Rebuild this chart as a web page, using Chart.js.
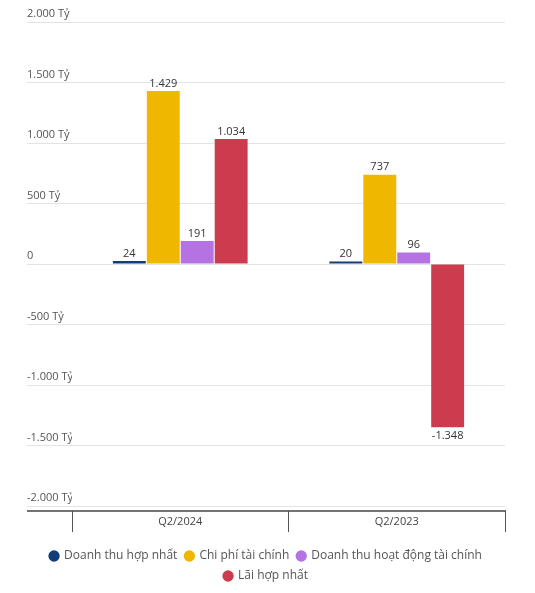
<!DOCTYPE html>
<html>
<head>
<meta charset="utf-8">
<script src="https://cdn.jsdelivr.net/npm/chart.js@4"></script>
<style>
  html, body { margin: 0; padding: 0; background: #fff; }
  #wrap { width: 535px; height: 593px; }
</style>
</head>
<body>
<div id="wrap"><canvas id="chart"></canvas></div>
<script>
// Data (units: tỷ đồng)
const categories = ['Q2/2024', 'Q2/2023'];
const seriesNames = ['Doanh thu hợp nhất', 'Chi phí tài chính', 'Doanh thu hoạt động tài chính', 'Lãi hợp nhất'];
const doanhThu = [24, 20];
const chiPhiTaiChinh = [1429, 737];
const doanhThuTaiChinh = [191, 96];
const laiHopNhat = [1034, -1348];
const yTicks = [-2000, -1500, -1000, -500, 0, 500, 1000, 1500, 2000];

const colors = ['#123d78', '#efb700', '#b572e2', '#cd3c4e'];
const font = "'Open Sans', 'Noto Sans', sans-serif";

// 1429 -> "1.429"
function fmt(v) {
  const s = String(Math.abs(v)).replace(/\B(?=(\d{3})+(?!\d))/g, '.');
  return (v < 0 ? '-' : '') + s;
}

// value labels at the end of each bar
const valueLabels = {
  id: 'valueLabels',
  afterDatasetsDraw(chart) {
    const ctx = chart.ctx;
    ctx.save();
    ctx.font = '11px ' + font;
    ctx.fillStyle = '#333';
    ctx.textAlign = 'center';
    chart.data.datasets.forEach((ds, i) => {
      chart.getDatasetMeta(i).data.forEach((el, j) => {
        const v = ds.data[j];
        if (v >= 0) {
          ctx.textBaseline = 'bottom';
          ctx.fillText(fmt(v), el.x, el.y - 2);
        } else {
          ctx.textBaseline = 'top';
          ctx.fillText(fmt(v), el.x, el.y + 3);
        }
      });
    });
    ctx.restore();
  }
};

// dark base line running under the y labels too
const baseLine = {
  id: 'baseLine',
  afterDraw(chart) {
    const ctx = chart.ctx;
    const a = chart.chartArea;
    ctx.save();
    ctx.strokeStyle = '#444';
    ctx.lineWidth = 1.5;
    ctx.beginPath();
    ctx.moveTo(27, a.bottom);
    ctx.lineTo(a.right + 1, a.bottom);
    ctx.stroke();
    ctx.restore();
  }
};

const seriesData = [doanhThu, chiPhiTaiChinh, doanhThuTaiChinh, laiHopNhat];

new Chart(document.getElementById('chart'), {
  type: 'bar',
  data: {
    labels: categories,
    datasets: seriesNames.map((name, i) => ({
      label: name,
      data: seriesData[i],
      backgroundColor: colors[i],
      barPercentage: 0.97,
      categoryPercentage: 0.627
    }))
  },
  options: {
    responsive: true,
    maintainAspectRatio: false,
    animation: false,
    layout: { padding: { left: 27, right: 30, top: 22, bottom: 1 } },
    scales: {
      x: {
        grid: { offset: true, drawOnChartArea: false, tickLength: 21, color: '#555', lineWidth: 1 },
        border: { display: false },
        ticks: { padding: -17, color: '#444', font: { family: font, size: 11 } },
        afterFit: s => { s.height = 31; }
      },
      y: {
        min: -2041,
        max: 2000,
        afterBuildTicks: s => { s.ticks = yTicks.map(v => ({ value: v })); },
        grid: { color: '#e3e3e3', tickColor: '#e3e3e3', tickLength: 45 },
        border: { display: false },
        ticks: {
          crossAlign: 'far',
          labelOffset: -8,
          padding: 0,
          color: '#555',
          font: { family: font, size: 11 },
          callback: v => v === 0 ? '0' : fmt(v) + ' Tỷ'
        },
        afterFit: s => { s.width = 45; }
      }
    },
    plugins: {
      legend: {
        position: 'bottom',
        maxWidth: 470,
        labels: {
          usePointStyle: true,
          pointStyle: 'circle',
          boxWidth: 8,
          boxHeight: 8,
          padding: 8,
          color: '#555',
          font: { family: font, size: 12 }
        }
      },
      tooltip: { enabled: false }
    }
  },
  plugins: [valueLabels, baseLine]
});
</script>
</body>
</html>
